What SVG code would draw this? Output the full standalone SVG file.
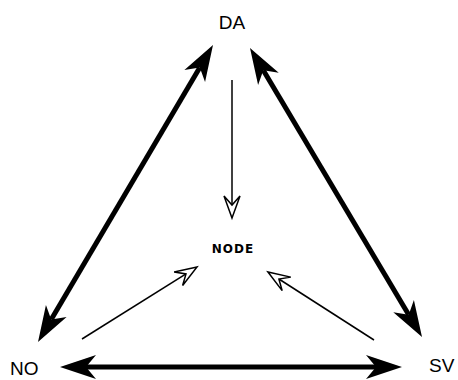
<svg xmlns="http://www.w3.org/2000/svg" width="458" height="380" viewBox="0 0 458 380">
<style>
.lbl{font-family:"Liberation Sans",Arial,sans-serif;font-size:19px;fill:#000}
.node{font-family:"DejaVu Sans",sans-serif;font-weight:bold;font-size:12px;letter-spacing:1px;fill:#000}
.thick{stroke:#000;stroke-width:5;fill:none;marker-start:url(#big);marker-end:url(#big)}
.thin{stroke:#000;stroke-width:1.5;fill:none;marker-end:url(#open)}
</style>
<defs>
<marker id="big" markerUnits="userSpaceOnUse" markerWidth="40" markerHeight="30" refX="-26" refY="0" orient="auto-start-reverse" overflow="visible">
<path d="M0,0 L-36,-12 L-26,0 L-36,12 Z" fill="#000"/>
</marker>
<marker id="open" markerUnits="userSpaceOnUse" markerWidth="24" markerHeight="20" refX="-13" refY="0" orient="auto" overflow="visible">
<path d="M0,0 L-22,-8 L-13,0 L-22,8 Z" fill="#fff" stroke="#000" stroke-width="1.5" stroke-linejoin="miter"/>
</marker>
</defs>
<g id="DA"><text class="lbl" x="232" y="29" text-anchor="middle">DA</text></g>
<g id="NO"><text class="lbl" x="10" y="375">NO</text></g>
<g id="SV"><text class="lbl" x="429" y="372">SV</text></g>
<g id="NODE"><text class="node" x="233" y="253" text-anchor="middle">NODE</text></g>
<g id="connectors">
<line class="thick" x1="199.8" y1="67.4" x2="51.2" y2="319.6"/>
<line class="thick" x1="263.3" y1="70.3" x2="408.7" y2="314.7"/>
<line class="thick" x1="86" y1="367" x2="376" y2="367"/>
<line class="thin" x1="232" y1="80" x2="232" y2="205"/>
<line class="thin" x1="82" y1="339" x2="186" y2="273.9"/>
<line class="thin" x1="374" y1="340" x2="278.9" y2="279"/>
</g>
</svg>
